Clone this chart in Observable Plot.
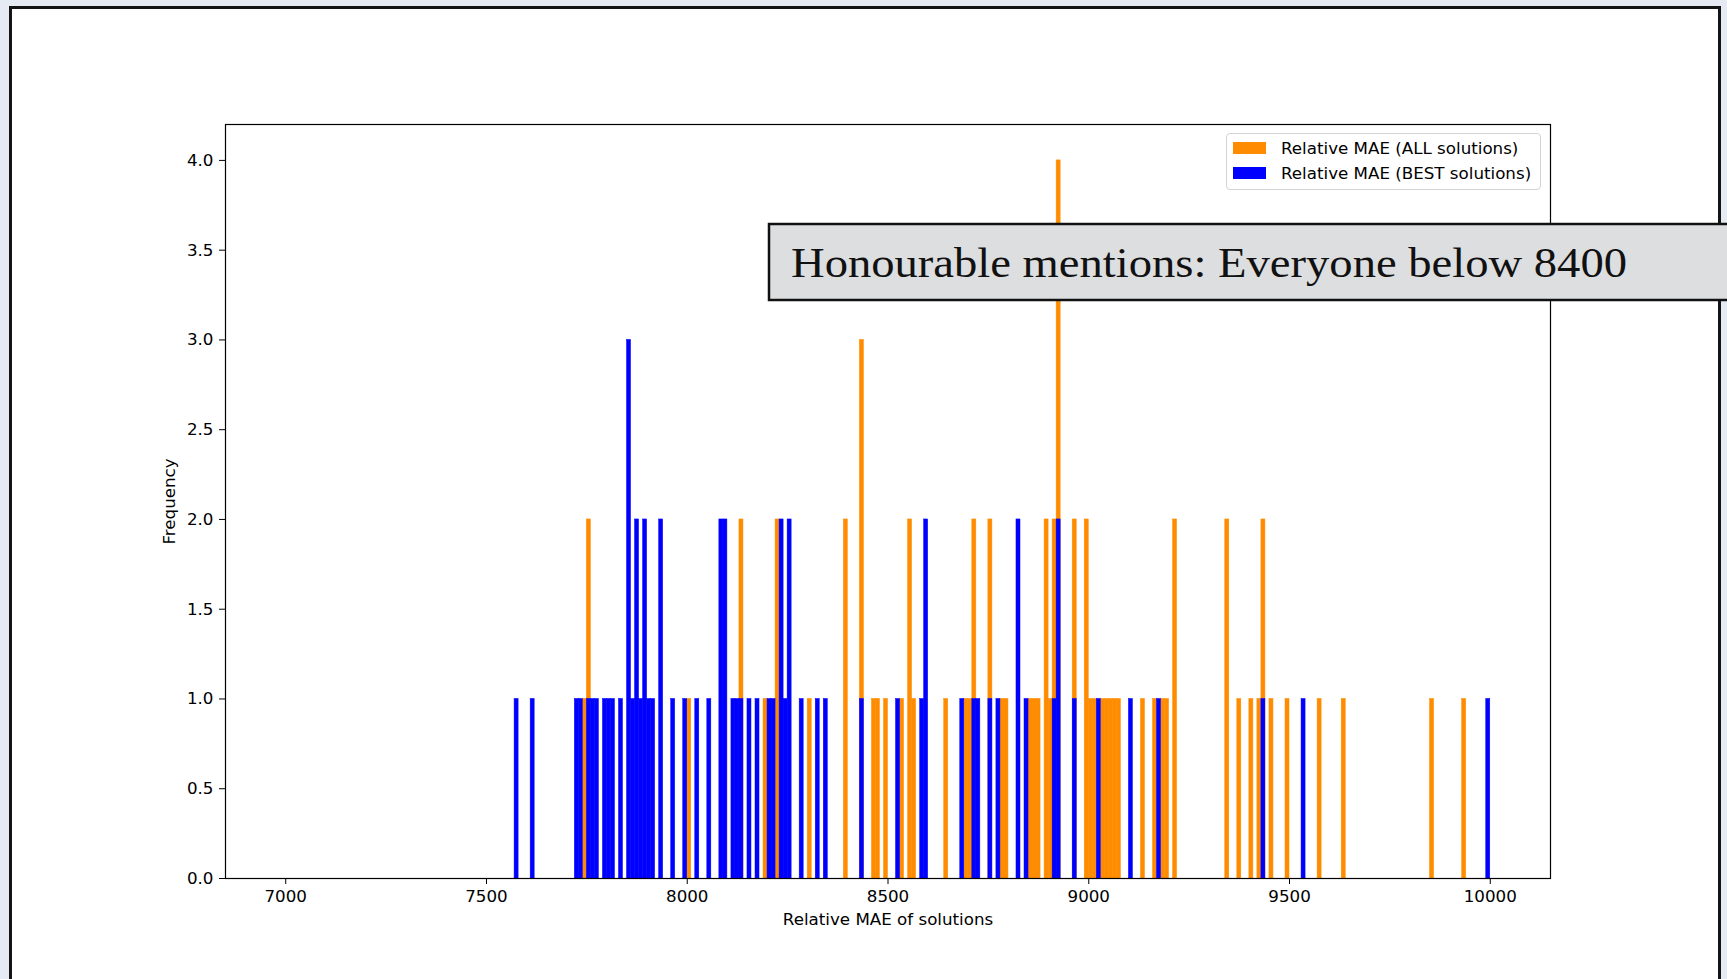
<!DOCTYPE html>
<html>
<head>
<meta charset="utf-8">
<script src="https://cdn.jsdelivr.net/npm/d3@7"></script>
<script src="https://cdn.jsdelivr.net/npm/@observablehq/plot@0.6"></script>
<style>
  html, body { margin: 0; padding: 0; }
  body {
    width: 1727px; height: 979px; overflow: hidden; position: relative;
    background: #e6eaf2;
    font-family: "DejaVu Sans", sans-serif;
  }
  #panel {
    position: absolute; left: 9px; top: 6px; width: 1706px; height: 1000px;
    border: 3px solid #141414; border-bottom: none; background: #fff;
  }
  #chart { position: absolute; left: 0; top: 0; }
  #legend {
    position: absolute; left: 1226px; top: 133px; width: 313px; height: 55px;
    border: 1px solid #d3d3d3; border-radius: 4px; background: rgba(255,255,255,0.8);
  }
  .key { position: absolute; left: 6px; width: 33px; height: 12px; }
  .lab { position: absolute; left: 54px; font-size: 16.7px; line-height: 20px; color: #000; white-space: nowrap; }
  #note { position: absolute; left: 0; top: 0; pointer-events: none; }
</style>
</head>
<body>
<div id="panel"></div>
<div id="chart"></div>
<div id="legend">
  <div class="key" style="top:8px;background:#ff8c00"></div>
  <div class="lab" style="top:4px">Relative MAE (ALL solutions)</div>
  <div class="key" style="top:33px;background:#0000ff"></div>
  <div class="lab" style="top:29px">Relative MAE (BEST solutions)</div>
</div>
<svg id="note" width="1727" height="979">
  <rect x="769" y="224" width="1000" height="76" fill="#dddee0" stroke="#111" stroke-width="2.5"></rect>
  <text x="791" y="277" font-family="Liberation Serif, serif" font-size="43" fill="#111"
        textLength="836" lengthAdjust="spacingAndGlyphs">Honourable mentions: Everyone below 8400</text>
</svg>
<script>
// Histogram bins: 10-wide bins from 7000 to 10000; left edge of each non-empty bin and its count.
const binWidth = 10;
const histRange = [7000, 10000];

// Relative MAE, all solutions
const allEdges = [7740, 7750, 8000, 8130, 8190, 8220, 8300, 8390, 8430, 8460,
  8470, 8490, 8530, 8550, 8560, 8640, 8690, 8700, 8710, 8750,
  8780, 8790, 8850, 8860, 8870, 8890, 8900, 8910, 8920, 8960,
  8990, 9000, 9010, 9030, 9040, 9050, 9060, 9070, 9130, 9160,
  9180, 9190, 9210, 9340, 9370, 9400, 9420, 9430, 9450, 9490,
  9570, 9630, 9850, 9930];
const allCounts = [1, 2, 1, 2, 1, 2, 1, 2, 3, 1,
  1, 1, 1, 2, 1, 1, 1, 1, 2, 2,
  1, 1, 1, 1, 1, 2, 1, 2, 4, 2,
  2, 1, 1, 1, 1, 1, 1, 1, 1, 1,
  1, 1, 2, 2, 1, 1, 1, 2, 1, 1,
  1, 1, 1, 1];

// Relative MAE, best solutions
const bestEdges = [7570, 7610, 7720, 7730, 7750, 7760, 7770, 7790, 7800, 7810,
  7830, 7850, 7860, 7870, 7880, 7890, 7900, 7910, 7930, 7960,
  7990, 8020, 8050, 8080, 8090, 8110, 8120, 8130, 8150, 8170,
  8200, 8210, 8230, 8240, 8250, 8280, 8320, 8340, 8430, 8520,
  8580, 8590, 8680, 8710, 8720, 8750, 8770, 8820, 8840, 8910,
  8920, 8960, 9020, 9100, 9170, 9430, 9530, 9990];
const bestCounts = [1, 1, 1, 1, 1, 1, 1, 1, 1, 1,
  1, 3, 1, 2, 1, 2, 1, 1, 2, 1,
  1, 1, 1, 2, 2, 1, 1, 1, 1, 1,
  1, 1, 2, 1, 2, 1, 1, 1, 1, 1,
  1, 2, 1, 1, 1, 1, 1, 2, 1, 1,
  2, 1, 1, 1, 1, 1, 1, 1];

const xTicks = [7000, 7500, 8000, 8500, 9000, 9500, 10000];
const yTicks = [0, 0.5, 1, 1.5, 2, 2.5, 3, 3.5, 4];

const toRows = (edges, counts) => edges.map((x, i) => ({x1: x, x2: x + binWidth, count: counts[i]}));
const allRows = toRows(allEdges, allCounts);
const bestRows = toRows(bestEdges, bestCounts);

// 5% padding around the binned range on x, 5% headroom above the tallest bar on y
const span = histRange[1] - histRange[0];
const xDomain = [histRange[0] - 0.05 * span, histRange[1] + 0.05 * span];
const yMax = d3.max([...allCounts, ...bestCounts]);
const yDomain = [0, yMax * 1.05];

// a hairline stroke in the fill colour keeps neighbouring bins joined without seams
const barStyle = (color) => ({x1: "x1", x2: "x2", y: "count", fill: color, stroke: color, strokeWidth: 0.5, inset: 0});

const chart = Plot.plot({
  width: 1727,
  height: 979,
  marginLeft: 225,
  marginRight: 177,
  marginTop: 124,
  marginBottom: 101,
  style: {fontFamily: "DejaVu Sans, sans-serif", fontSize: "16.7px", color: "#000", background: "transparent", overflow: "visible"},
  x: {domain: xDomain},
  y: {domain: yDomain},
  marks: [
    Plot.rectY(allRows, barStyle("#ff8c00")),
    Plot.rectY(bestRows, barStyle("#0000ff")),
    Plot.frame({stroke: "#000", strokeWidth: 1.2}),
    Plot.axisX({ticks: xTicks, tickFormat: d3.format("d"), tickSize: 6, tickPadding: 6, label: null}),
    Plot.axisY({ticks: yTicks, tickFormat: d3.format(".1f"), tickSize: 6, tickPadding: 6, label: null}),
    Plot.text(["Relative MAE of solutions"], {frameAnchor: "bottom", dy: 46, fontSize: 16.7, fill: "#000"}),
    Plot.text(["Frequency"], {frameAnchor: "left", dx: -56, rotate: -90, textAnchor: "middle", fontSize: 16.7, fill: "#000"})
  ]
});
document.getElementById("chart").appendChild(chart);
</script>
</body>
</html>
